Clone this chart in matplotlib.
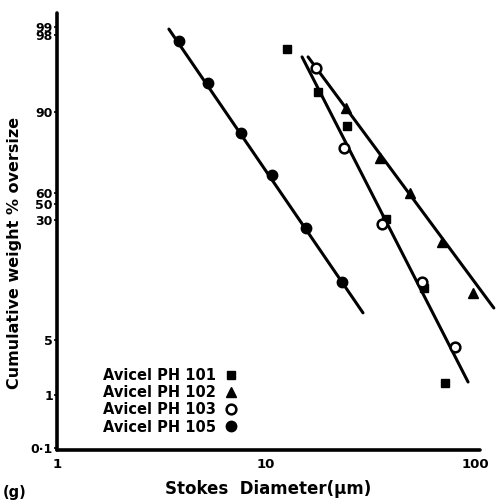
import numpy as np
import matplotlib
matplotlib.use("Agg")
import matplotlib.pyplot as plt
from matplotlib.ticker import FixedLocator, NullLocator, FixedFormatter

# ---------------- data ----------------
series_names = ["Avicel PH 101", "Avicel PH 102", "Avicel PH 103", "Avicel PH 105"]

ph101_x = [12.6, 17.7, 24.4, 37.5, 57.0, 71.9]
ph101_y = [97.3, 93.3, 86.8, 31.1, 11.6, 1.43]

ph102_x = [24.2, 35.1, 48.9, 69.5, 97.8]
ph102_y = [90.8, 76.5, 60.0, 22.6, 10.7]

ph103_x = [17.35, 23.6, 35.9, 55.8, 80.2]
ph103_y = [95.95, 80.4, 28.6, 12.7, 4.09]

ph105_x = [3.83, 5.28, 7.59, 10.7, 15.5, 23.1]
ph105_y = [97.7, 94.5, 85.0, 69.1, 27.2, 12.7]

# fitted straight lines (end points)
fit105_x = [3.43, 29.1]
fit105_y = [98.8, 7.8]
fit103_x = [14.87, 92.6]
fit103_y = [96.8, 1.47]
fit102_x = [15.89, 123.0]
fit102_y = [96.8, 8.43]

y_tick_values = [0.1, 1, 5, 30, 50, 60, 90, 98, 99]
y_tick_labels = ["0·1", "1", "5", "30", "50", "60", "90", "98", "99"]
x_tick_values = [1, 10, 100]
x_tick_labels = ["1", "10", "100"]

# ---------------- printed probability scale ----------------
# relative positions of the printed probability ticks (as drawn on the original paper)
scale_pos = np.array([448, 395, 340, 220, 204, 193, 112, 35, 27], float)


def logit(v):
    v = np.clip(np.asarray(v, float), 1e-9, 100 - 1e-9)
    return np.log(v / (100 - v))


Lk = logit(y_tick_values)
Uk = -scale_pos
lo = (Uk[1] - Uk[0]) / (Lk[1] - Lk[0])
hi = (Uk[-1] - Uk[-2]) / (Lk[-1] - Lk[-2])
Lx = np.concatenate([[-30.0], Lk, [30.0]])
Ux = np.concatenate([[Uk[0] + (-30.0 - Lk[0]) * lo], Uk, [Uk[-1] + (30.0 - Lk[-1]) * hi]])


def fwd(v):
    return np.interp(logit(v), Lx, Ux)


def inv(u):
    L = np.interp(np.asarray(u, float), Ux, Lx)
    return 100.0 / (1.0 + np.exp(-L))


# ---------------- figure ----------------
W, H = 497, 504
fig = plt.figure(figsize=(W / 100, H / 100), dpi=100)
ax_left, ax_right, ax_top, ax_bot = 57, 480, 13, 450
ax = fig.add_axes([ax_left / W, (H - ax_bot) / H, (ax_right - ax_left) / W, (ax_bot - ax_top) / H])

ax.set_xscale("log")
ax.set_yscale("function", functions=(fwd, inv))
ax.set_xlim(1, 105.6)
ax.set_ylim(float(inv(-ax_bot)), float(inv(-ax_top)))

lw = 2.2
kw = dict(color="black", lw=lw, solid_capstyle="round", clip_on=False, zorder=2)
ax.plot(fit105_x, fit105_y, **kw)
ax.plot(fit103_x, fit103_y, **kw)
ax.plot(fit102_x, fit102_y, **kw)

h101, = ax.plot(ph101_x, ph101_y, ls="none", marker="s", ms=6, color="black", clip_on=False, zorder=3,
                label=series_names[0])
h102, = ax.plot(ph102_x, ph102_y, ls="none", marker="^", ms=7, color="black", clip_on=False, zorder=3,
                label=series_names[1])
h103, = ax.plot(ph103_x, ph103_y, ls="none", marker="o", ms=7, mfc="white", mec="black", mew=1.8,
                clip_on=False, zorder=3, label=series_names[2])
h105, = ax.plot(ph105_x, ph105_y, ls="none", marker="o", ms=7.5, color="black", clip_on=False, zorder=3,
                label=series_names[3])

for s in ["top", "right"]:
    ax.spines[s].set_visible(False)
for s in ["left", "bottom"]:
    ax.spines[s].set_linewidth(2.6)
    ax.spines[s].set_capstyle("round")

ax.yaxis.set_major_locator(FixedLocator(y_tick_values))
ax.yaxis.set_major_formatter(FixedFormatter(y_tick_labels))
ax.yaxis.set_minor_locator(NullLocator())
ax.xaxis.set_major_locator(FixedLocator(x_tick_values))
ax.xaxis.set_major_formatter(FixedFormatter(x_tick_labels))
ax.xaxis.set_minor_locator(NullLocator())

ax.tick_params(axis="y", length=2, width=1.2, direction="out", pad=1, labelsize=9)
ax.tick_params(axis="x", length=0, pad=6, labelsize=9.5)
for t in ax.get_xticklabels() + ax.get_yticklabels():
    t.set_fontweight("bold")

ax.set_ylabel("Cumulative weight % oversize", fontsize=11.5, fontweight="bold")
ax.yaxis.set_label_coords((22 - ax_left) / (ax_right - ax_left), (ax_bot - 253) / (ax_bot - ax_top))
ax.set_xlabel("Stokes  Diameter(\u00b5m)", fontsize=12, fontweight="bold", labelpad=6)

leg = ax.legend(handles=[h101, h102, h103, h105], loc="upper left",
                bbox_to_anchor=((103 - ax_left) / (ax_right - ax_left), (ax_bot - 368) / (ax_bot - ax_top)),
                markerfirst=False, frameon=False, borderpad=0, borderaxespad=0,
                handlelength=0.8, handletextpad=0.6, labelspacing=0.15,
                prop={"weight": "bold", "size": 10.5})

fig.text(3 / W, 1 - 493 / H, "(g)", fontsize=10.5, fontweight="bold", va="center", ha="left")

fig.savefig("out.png", dpi=100)
